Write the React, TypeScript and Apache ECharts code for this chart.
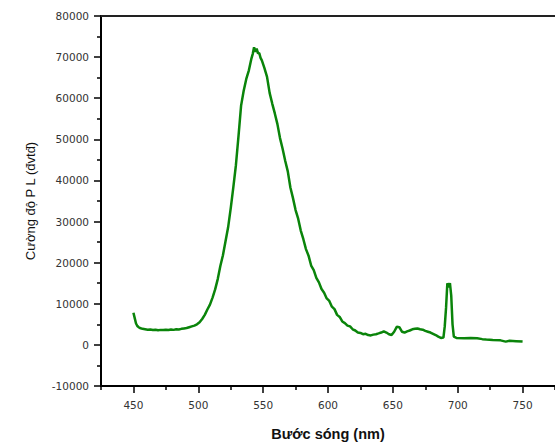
import React, { useEffect, useRef } from "react";
import * as echarts from "echarts";

// Photoluminescence spectrum: wavelength (nm) vs. intensity (a.u.)
const wavelengths = [
  450, 451, 452, 453, 454, 455, 457, 459, 461, 463, 465, 467, 469, 471, 473, 475, 477, 479,
  481, 483, 485, 487, 489, 491, 493, 495, 497, 499, 501, 503, 505, 507, 509, 511, 513, 515,
  517, 519, 521, 523, 525, 527, 529, 531, 533, 535, 537, 539, 541, 542, 543, 544, 545, 546,
  547, 548, 549, 551, 553, 555, 557, 559, 561, 563, 565, 567, 569, 571, 573, 575, 577, 579,
  581, 583, 585, 587, 589, 591, 593, 595, 597, 599, 601, 603, 605, 607, 609, 611, 613, 615,
  617, 619, 621, 623, 625, 627, 629, 631, 633, 635, 637, 639, 641, 643, 645, 647, 649, 651,
  653, 655, 657, 659, 661, 663, 665, 667, 669, 671, 673, 675, 677, 679, 681, 683, 685, 687,
  689, 690, 691, 692, 693, 694, 695, 696, 697, 699, 705, 710, 715, 719, 722, 727, 733, 737,
  740, 745, 750,
];

const intensities = [
  7800, 6500, 5200, 4600, 4300, 4100, 3900, 3800, 3700, 3750, 3600, 3700, 3550, 3650, 3600, 3700, 3600, 3750,
  3650, 3800, 3750, 3900, 4000, 4100, 4300, 4500, 4700, 5000, 5500, 6300, 7300, 8600, 9800, 11500, 13500, 16000,
  19200, 21800, 25200, 28600, 33200, 38300, 43700, 50800, 58200, 61800, 64700, 66800, 69700, 70800, 72400, 71300, 72100, 70900,
  71000, 69800, 69200, 67300, 65200, 61300, 58700, 56300, 53700, 50300, 47700, 44800, 42200, 38300, 35700, 32800, 30700, 27800,
  25700, 23300, 21700, 19300, 18200, 16300, 15200, 13600, 12700, 11300, 10700, 9300, 8700, 7300, 6800, 5700, 5300, 4700,
  4500, 3800, 3500, 3000, 2900, 2600, 2700, 2400, 2300, 2500, 2600, 2800, 3000, 3300, 3000, 2600, 2400, 3200,
  4400, 4300, 3200, 3000, 3300, 3500, 3800, 3900, 4000, 3800, 3700, 3400, 3200, 3000, 2700, 2400, 2000, 1700,
  1800, 4500, 9000, 15000, 14000, 15000, 12000, 5000, 2000, 1700, 1600, 1700, 1600, 1400, 1300, 1200, 1100, 800,
  1000, 900, 800,
];

const majorXTicks = [450, 500, 550, 600, 650, 700, 750];
const minorXTicks = [425, 475, 525, 575, 625, 675, 725, 775];

const xTitle = "Bước sóng (nm)";
const yTitle = "Cường độ P L (đvtđ)";

const tickFont = { fontFamily: "'DejaVu Sans', Verdana, sans-serif", fontSize: 10.5, color: "#333" };
const titleFont = "Arial, 'Liberation Sans', sans-serif";

export default function App() {
  const ref = useRef<HTMLDivElement>(null);

  useEffect(() => {
    if (!ref.current) return;
    const chart = echarts.init(ref.current, undefined, { renderer: "svg" });
    const points = wavelengths.map((w, i) => [w, intensities[i]]);

    chart.setOption({
      animation: false,
      backgroundColor: "#fff",
      grid: { left: 101, top: 16, right: -4, bottom: 58, containLabel: false },
      xAxis: [
        {
          type: "value",
          position: "bottom",
          min: 425,
          max: 775,
          axisLine: { show: true, onZero: false, lineStyle: { color: "#000", width: 2 } },
          axisTick: { show: true, customValues: majorXTicks, length: 7, lineStyle: { color: "#000", width: 1.5 } },
          axisLabel: { show: true, customValues: majorXTicks, margin: 13, ...tickFont },
          splitLine: { show: false },
          name: xTitle,
          nameLocation: "middle",
          nameGap: 40,
          nameTextStyle: {
            fontFamily: titleFont,
            fontSize: 14.5,
            fontWeight: "bold",
            color: "#111",
          },
        },
        {
          type: "value",
          position: "bottom",
          min: 425,
          max: 775,
          axisLine: { show: false, onZero: false },
          axisTick: { show: true, customValues: minorXTicks, length: 4, lineStyle: { color: "#000", width: 1.5 } },
          axisLabel: { show: false },
          splitLine: { show: false },
        },
        {
          type: "value",
          position: "top",
          min: 425,
          max: 775,
          axisLine: { show: true, onZero: false, lineStyle: { color: "#222", width: 2 } },
          axisTick: { show: false },
          axisLabel: { show: false },
          splitLine: { show: false },
        },
      ],
      yAxis: {
        type: "value",
        min: -10000,
        max: 80000,
        interval: 10000,
        axisLine: { show: true, onZero: false, lineStyle: { color: "#000", width: 2 } },
        axisTick: { show: true, length: 7, lineStyle: { color: "#000", width: 1.5 } },
        minorTick: { show: true, splitNumber: 2, length: 4, lineStyle: { color: "#000", width: 1.5 } },
        axisLabel: { margin: 12, formatter: (v: number) => String(v), ...tickFont },
        splitLine: { show: false },
        minorSplitLine: { show: false },
        name: yTitle,
        nameLocation: "middle",
        nameGap: 64,
        nameTextStyle: {
          fontFamily: titleFont,
          fontSize: 13,
          color: "#111",
        },
      },
      series: [
        {
          type: "line",
          xAxisIndex: 0,
          data: points,
          showSymbol: false,
          lineStyle: { color: "#0a840a", width: 2.5 },
        },
      ],
    });

    return () => chart.dispose();
  }, []);

  return (
    <div
      ref={ref}
      style={{ position: "fixed", left: 0, top: 0, width: 555, height: 446 }}
    />
  );
}
